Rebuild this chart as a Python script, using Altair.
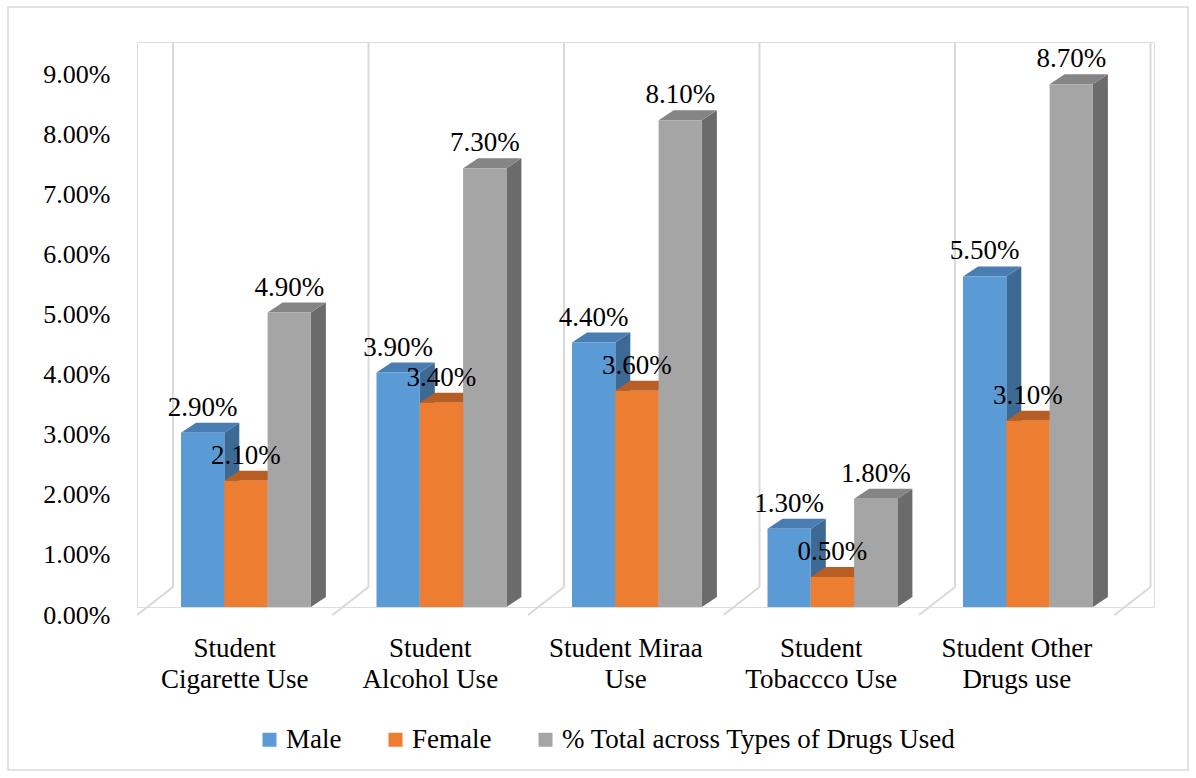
import altair as alt
import pandas as pd

# ---- data -------------------------------------------------------------
categories = [
    "Student Cigarette Use",
    "Student Alcohol Use",
    "Student Miraa Use",
    "Student Tobaccco Use",
    "Student Other Drugs use",
]
category_lines = [
    ["Student", "Cigarette Use"],
    ["Student", "Alcohol Use"],
    ["Student Miraa", "Use"],
    ["Student", "Tobaccco Use"],
    ["Student Other", "Drugs use"],
]
series = ["Male", "Female", "% Total across Types of Drugs Used"]
male = [2.9, 3.9, 4.4, 1.3, 5.5]
female = [2.1, 3.4, 3.6, 0.5, 3.1]
total = [4.9, 7.3, 8.1, 1.8, 8.7]
y_ticks = [0, 1, 2, 3, 4, 5, 6, 7, 8, 9]

# ---- styling ------------------------------------------------------------
FONT = "Liberation Serif"
FS = 27
TICK_FS = 26
front_colors = ["#5B9BD5", "#ED7D31", "#A5A5A5"]
top_colors = ["#4A7EB2", "#B65E24", "#858585"]
side_colors = ["#3D6A94", "#A4521C", "#6B6B6B"]
WALL = "#D9D9D9"

# ---- pseudo-3D geometry (pixels converted to data units) --------------
W, H = 1017, 565
CAT_PX = 195.5          # width of one category slot
Y_PX = 60.1             # pixels per percentage point
X_MAX = W / CAT_PX
Y_MAX = H / Y_PX
GAP = 44 / CAT_PX       # space before the first bar of a cluster
BAR = 43.3 / CAT_PX     # bar width
DX = 15 / CAT_PX        # bar depth, horizontal
DY = 10 / Y_PX          # bar depth, vertical
WALL_DX = 36 / CAT_PX   # floor depth, horizontal
WALL_BACK = 20 / Y_PX   # back floor edge above zero
WALL_FRONT = -8 / Y_PX  # front floor edge below zero
WALL_TOP = 564 / Y_PX   # top of the back-wall dividers

values = [male, female, total]
front_rows, side_rows, top_rows = [], [], []
for i, cat in enumerate(categories):
    for j, s in enumerate(series):
        v = values[j][i]
        x0 = i + GAP + j * BAR
        x1 = x0 + BAR
        key = f"{i}-{j}"
        front_rows.append(dict(cat=cat, series=s, v=v, x0=x0, x1=x1,
                               xc=(x0 + x1) / 2, label=f"{v:.2f}%"))
        side_rows += [
            dict(key=key, series=s, x=x1, lo=0.0, hi=v),
            dict(key=key, series=s, x=x1 + DX, lo=DY, hi=v + DY),
        ]
        top_rows += [
            dict(key=key, series=s, y=v, xa=x0, xb=x1),
            dict(key=key, series=s, y=v + DY, xa=x0 + DX, xb=x1 + DX),
        ]
front = pd.DataFrame(front_rows)
side = pd.DataFrame(side_rows)
top = pd.DataFrame(top_rows)

walls = pd.DataFrame([
    dict(bx=k + WALL_DX, fx=float(k), yb=WALL_BACK, yf=WALL_FRONT, yt=WALL_TOP)
    for k in range(len(categories) + 1)
])
cat_labels = pd.DataFrame([
    dict(xc=i + 0.5, lines=category_lines[i]) for i in range(len(categories))
])

xs = alt.Scale(domain=[0, X_MAX], nice=False, zero=False)
ys = alt.Scale(domain=[0, Y_MAX], nice=False)
X = lambda f: alt.X(f, type="quantitative", scale=xs, axis=None)

# back-wall dividers and floor edges
wall_v = alt.Chart(walls).mark_rule(color=WALL, strokeWidth=2).encode(
    x=X("bx"), y=alt.Y("yb:Q", scale=ys,
                       axis=alt.Axis(values=y_ticks, labelExpr="format(datum.value, '.2f') + '%'",
                                     domain=False, ticks=False, grid=False, title=None,
                                     labelFont=FONT, labelFontSize=TICK_FS, labelColor="#000000",
                                     labelPadding=27, labelOffset=8)),
    y2="yt:Q",
)
wall_d = alt.Chart(walls).mark_rule(color=WALL, strokeWidth=2).encode(
    x=X("fx"), x2="bx:Q", y=alt.Y("yf:Q", scale=ys), y2="yb:Q",
)

sides = alt.Chart(side).mark_area(orient="vertical").encode(
    x=X("x"), y=alt.Y("lo:Q", scale=ys), y2="hi:Q", detail="key:N",
    color=alt.Color("series:N", scale=alt.Scale(domain=series, range=side_colors), legend=None),
)
tops = alt.Chart(top).mark_area(orient="horizontal").encode(
    y=alt.Y("y:Q", scale=ys), x=X("xa"), x2="xb:Q", detail="key:N",
    color=alt.Color("series:N", scale=alt.Scale(domain=series, range=top_colors), legend=None),
)
fronts = alt.Chart(front).mark_bar().encode(
    x=X("x0"), x2="x1:Q", y=alt.Y("v:Q", scale=ys), y2=alt.datum(0),
    color=alt.Color("series:N", scale=alt.Scale(domain=series, range=front_colors),
                    legend=alt.Legend(orient="none", direction="horizontal", title=None,
                                      legendX=119, legendY=684, padding=0,
                                      symbolType="square", symbolSize=196, symbolStrokeWidth=0,
                                      labelFont=FONT, labelFontSize=FS, labelColor="#000000",
                                      labelLimit=0, labelOffset=3, columnPadding=40)),
)
value_labels = alt.Chart(front).mark_text(
    font=FONT, fontSize=FS, color="#000000", baseline="alphabetic", dy=-17
).encode(x=X("xc"), y=alt.Y("v:Q", scale=ys), text="label:N")

cat_text = alt.Chart(cat_labels).mark_text(
    font=FONT, fontSize=FS, color="#000000", baseline="alphabetic", lineHeight=31
).encode(x=X("xc"), y=alt.value(615), text="lines")

frame = alt.Chart(walls.head(1)).mark_rect(
    fillOpacity=0, stroke=WALL, strokeWidth=1.5
).encode(x=alt.value(-129), x2=alt.value(1051), y=alt.value(-35), y2=alt.value(728))

chart = (
    alt.layer(frame, wall_v, wall_d, sides, tops, fronts, value_labels, cat_text)
    .resolve_scale(color="independent")
    .properties(width=W, height=H,
                autosize=alt.AutoSizeParams(type="none"),
                padding={"left": 137, "top": 42, "right": 42, "bottom": 171})
    .configure_view(stroke=None)
    .configure(background="#FFFFFF")
)

chart.save("out.html", embed_options={"renderer": "svg", "actions": False})
